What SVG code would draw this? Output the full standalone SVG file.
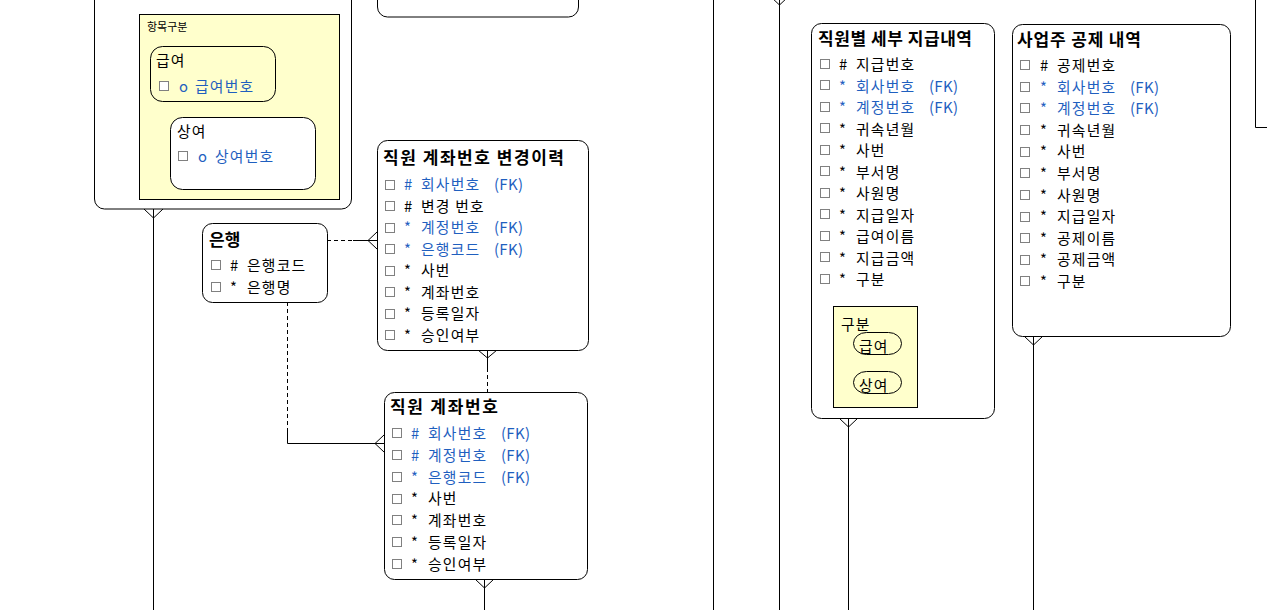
<svg xmlns="http://www.w3.org/2000/svg" width="1267" height="610" viewBox="0 0 1267 610">
<style>
text{font-family:"Noto Sans CJK KR","Noto Sans",sans-serif;fill:#000}
.t{font-size:17px;font-weight:bold}
.a{font-size:14.8px;letter-spacing:1.2px}
.f{font-size:15px;letter-spacing:0.3px}
.b{fill:#1f5fbf}
.s{font-size:11px}
.box{fill:#fff;stroke:#000;stroke-width:1}
.yel{fill:#ffffcc;stroke:#000;stroke-width:1}
.cb{fill:#fff;stroke:#808080;stroke-width:1}
.ln{fill:none;stroke:#000;stroke-width:1}
.dash{fill:none;stroke:#000;stroke-width:1;stroke-dasharray:4 3}
</style>
<rect width="1267" height="610" fill="#fff"/>

<g id="connectors">
  <line class="ln" x1="153.5" y1="209" x2="153.5" y2="610"/>
  <polyline class="ln" points="144,209 153.5,218 163,209"/>
  <line class="dash" x1="327" y1="240.5" x2="353" y2="240.5"/>
  <line class="ln" x1="353" y1="240.5" x2="377" y2="240.5"/>
  <polyline class="ln" points="377,232 368,240.5 377,249"/>
  <line class="dash" x1="287.5" y1="302" x2="287.5" y2="428"/>
  <polyline class="ln" points="287.5,428 287.5,443.5 384,443.5"/>
  <polyline class="ln" points="384,435 375,443.5 384,452"/>
  <polyline class="ln" points="478,350 487.5,358 497,350"/>
  <line class="ln" x1="487.5" y1="350" x2="487.5" y2="368"/>
  <line class="dash" x1="487.5" y1="368" x2="487.5" y2="392"/>
  <polyline class="ln" points="475,579 484.5,588 494,579"/>
  <line class="ln" x1="484.5" y1="579" x2="484.5" y2="610"/>
  <line class="ln" x1="713.5" y1="0" x2="713.5" y2="610"/>
  <line class="ln" x1="779.5" y1="0" x2="779.5" y2="610"/>
  <polyline class="ln" points="770,-4 779.5,5 789,-4"/>
  <polyline class="ln" points="839,418 848.5,427 858,418"/>
  <line class="ln" x1="848.5" y1="418" x2="848.5" y2="610"/>
  <polyline class="ln" points="1024,336 1033.5,345 1043,336"/>
  <line class="ln" x1="1033.5" y1="336" x2="1033.5" y2="610"/>
  <polyline class="ln" points="1255.5,0 1255.5,127.5 1267,127.5"/>
</g>

<g id="top-left-entity">
  <rect class="box" x="94.5" y="-30" width="257" height="239" rx="10"/>
  <rect class="yel" x="139.5" y="14.5" width="200" height="185"/>
  <text class="s" x="147" y="31">항목구분</text>
  <g id="sub-geupyeo">
    <rect fill="none" stroke="#000" x="150.5" y="46.5" width="125" height="55" rx="12"/>
    <text class="a" x="156" y="66">급여</text>
    <rect class="cb" x="159.5" y="81.5" width="9" height="9"/>
    <text class="a b" x="179" y="92">o</text>
    <text class="a b" x="195" y="92">급여번호</text>
  </g>
  <g id="sub-sangyeo">
    <rect class="box" x="170.5" y="117.5" width="145" height="72" rx="12"/>
    <text class="a" x="177" y="137">상여</text>
    <rect class="cb" x="178.5" y="151.5" width="9" height="9"/>
    <text class="a b" x="198" y="162">o</text>
    <text class="a b" x="215" y="162">상여번호</text>
  </g>
</g>

<g id="top-middle-entity">
  <rect class="box" x="377.5" y="-40" width="201" height="57" rx="10"/>
</g>

<g id="bank">
  <rect class="box" x="202.5" y="223.5" width="125" height="79" rx="10"/>
  <text class="t" x="209" y="246">은행</text>
  <rect class="cb" x="211.5" y="260.5" width="9" height="9"/>
  <text class="a" x="230" y="271">#</text>
  <text class="a" x="247" y="271">은행코드</text>
  <rect class="cb" x="211.5" y="282.5" width="9" height="9"/>
  <text class="a" x="230" y="293">*</text>
  <text class="a" x="247" y="293">은행명</text>
</g>

<g id="account-history">
  <rect class="box" x="377.5" y="140.5" width="211" height="210" rx="10"/>
  <text class="t" x="383" y="164" textLength="181" lengthAdjust="spacing">직원 계좌번호 변경이력</text>
  <rect class="cb" x="385.5" y="180.5" width="9" height="9"/>
  <text class="a b" x="404" y="190">#</text><text class="a b" x="421" y="190">회사번호</text><text class="f b" x="494" y="190">(FK)</text>
  <rect class="cb" x="385.5" y="201.5" width="9" height="9"/>
  <text class="a" x="404" y="211.5">#</text><text class="a" x="421" y="211.5">변경 번호</text>
  <rect class="cb" x="385.5" y="223.5" width="9" height="9"/>
  <text class="a b" x="404" y="233">*</text><text class="a b" x="421" y="233">계정번호</text><text class="f b" x="494" y="233">(FK)</text>
  <rect class="cb" x="385.5" y="244.5" width="9" height="9"/>
  <text class="a b" x="404" y="254.5">*</text><text class="a b" x="421" y="254.5">은행코드</text><text class="f b" x="494" y="254.5">(FK)</text>
  <rect class="cb" x="385.5" y="266.5" width="9" height="9"/>
  <text class="a" x="404" y="276">*</text><text class="a" x="421" y="276">사번</text>
  <rect class="cb" x="385.5" y="287.5" width="9" height="9"/>
  <text class="a" x="404" y="297.5">*</text><text class="a" x="421" y="297.5">계좌번호</text>
  <rect class="cb" x="385.5" y="309.5" width="9" height="9"/>
  <text class="a" x="404" y="319">*</text><text class="a" x="421" y="319">등록일자</text>
  <rect class="cb" x="385.5" y="330.5" width="9" height="9"/>
  <text class="a" x="404" y="340.5">*</text><text class="a" x="421" y="340.5">승인여부</text>
</g>

<g id="account">
  <rect class="box" x="384.5" y="392.5" width="203" height="187" rx="10"/>
  <text class="t" x="390" y="413" textLength="108" lengthAdjust="spacing">직원 계좌번호</text>
  <rect class="cb" x="392.5" y="428.5" width="9" height="9"/>
  <text class="a b" x="411" y="439">#</text><text class="a b" x="428" y="439">회사번호</text><text class="f b" x="501" y="439">(FK)</text>
  <rect class="cb" x="392.5" y="450.5" width="9" height="9"/>
  <text class="a b" x="411" y="460.8">#</text><text class="a b" x="428" y="460.8">계정번호</text><text class="f b" x="501" y="460.8">(FK)</text>
  <rect class="cb" x="392.5" y="472.5" width="9" height="9"/>
  <text class="a b" x="411" y="482.6">*</text><text class="a b" x="428" y="482.6">은행코드</text><text class="f b" x="501" y="482.6">(FK)</text>
  <rect class="cb" x="392.5" y="494.5" width="9" height="9"/>
  <text class="a" x="411" y="504.4">*</text><text class="a" x="428" y="504.4">사번</text>
  <rect class="cb" x="392.5" y="515.5" width="9" height="9"/>
  <text class="a" x="411" y="526.2">*</text><text class="a" x="428" y="526.2">계좌번호</text>
  <rect class="cb" x="392.5" y="537.5" width="9" height="9"/>
  <text class="a" x="411" y="548">*</text><text class="a" x="428" y="548">등록일자</text>
  <rect class="cb" x="392.5" y="559.5" width="9" height="9"/>
  <text class="a" x="411" y="569.8">*</text><text class="a" x="428" y="569.8">승인여부</text>
</g>

<g id="payment-detail">
  <rect class="box" x="811.5" y="23.5" width="183" height="395" rx="10"/>
  <text class="t" x="818" y="45" textLength="154" lengthAdjust="spacing">직원별 세부 지급내역</text>
  <rect class="cb" x="820.5" y="59.5" width="9" height="9"/>
  <text class="a" x="839" y="70">#</text><text class="a" x="856" y="70">지급번호</text>
  <rect class="cb" x="820.5" y="80.5" width="9" height="9"/>
  <text class="a b" x="839" y="91.5">*</text><text class="a b" x="856" y="91.5">회사번호</text><text class="f b" x="929" y="91.5">(FK)</text>
  <rect class="cb" x="820.5" y="102.5" width="9" height="9"/>
  <text class="a b" x="839" y="113">*</text><text class="a b" x="856" y="113">계정번호</text><text class="f b" x="929" y="113">(FK)</text>
  <rect class="cb" x="820.5" y="123.5" width="9" height="9"/>
  <text class="a" x="839" y="134.5">*</text><text class="a" x="856" y="134.5">귀속년월</text>
  <rect class="cb" x="820.5" y="145.5" width="9" height="9"/>
  <text class="a" x="839" y="156">*</text><text class="a" x="856" y="156">사번</text>
  <rect class="cb" x="820.5" y="166.5" width="9" height="9"/>
  <text class="a" x="839" y="177.5">*</text><text class="a" x="856" y="177.5">부서명</text>
  <rect class="cb" x="820.5" y="188.5" width="9" height="9"/>
  <text class="a" x="839" y="199">*</text><text class="a" x="856" y="199">사원명</text>
  <rect class="cb" x="820.5" y="209.5" width="9" height="9"/>
  <text class="a" x="839" y="220.5">*</text><text class="a" x="856" y="220.5">지급일자</text>
  <rect class="cb" x="820.5" y="231.5" width="9" height="9"/>
  <text class="a" x="839" y="242">*</text><text class="a" x="856" y="242">급여이름</text>
  <rect class="cb" x="820.5" y="252.5" width="9" height="9"/>
  <text class="a" x="839" y="263.5">*</text><text class="a" x="856" y="263.5">지급금액</text>
  <rect class="cb" x="820.5" y="274.5" width="9" height="9"/>
  <text class="a" x="839" y="285">*</text><text class="a" x="856" y="285">구분</text>
  <rect class="yel" x="833.5" y="306.5" width="84" height="101"/>
  <text class="a" x="841" y="329.5">구분</text>
  <rect fill="none" stroke="#000" x="853.5" y="332.5" width="48" height="22" rx="13" ry="11"/>
  <text class="a" x="859" y="352">급여</text>
  <rect fill="none" stroke="#000" x="853.5" y="371.5" width="48" height="22" rx="13" ry="11"/>
  <text class="a" x="859" y="391">상여</text>
</g>

<g id="deduction">
  <rect class="box" x="1012.5" y="24.5" width="218" height="312" rx="10"/>
  <text class="t" x="1017" y="46" textLength="124" lengthAdjust="spacing">사업주 공제 내역</text>
  <rect class="cb" x="1020.5" y="60.5" width="9" height="9"/>
  <text class="a" x="1040" y="71">#</text><text class="a" x="1057" y="71">공제번호</text>
  <rect class="cb" x="1020.5" y="82.5" width="9" height="9"/>
  <text class="a b" x="1040" y="92.6">*</text><text class="a b" x="1057" y="92.6">회사번호</text><text class="f b" x="1130" y="92.6">(FK)</text>
  <rect class="cb" x="1020.5" y="103.5" width="9" height="9"/>
  <text class="a b" x="1040" y="114.2">*</text><text class="a b" x="1057" y="114.2">계정번호</text><text class="f b" x="1130" y="114.2">(FK)</text>
  <rect class="cb" x="1020.5" y="125.5" width="9" height="9"/>
  <text class="a" x="1040" y="135.8">*</text><text class="a" x="1057" y="135.8">귀속년월</text>
  <rect class="cb" x="1020.5" y="147.5" width="9" height="9"/>
  <text class="a" x="1040" y="157.4">*</text><text class="a" x="1057" y="157.4">사번</text>
  <rect class="cb" x="1020.5" y="168.5" width="9" height="9"/>
  <text class="a" x="1040" y="179">*</text><text class="a" x="1057" y="179">부서명</text>
  <rect class="cb" x="1020.5" y="190.5" width="9" height="9"/>
  <text class="a" x="1040" y="200.6">*</text><text class="a" x="1057" y="200.6">사원명</text>
  <rect class="cb" x="1020.5" y="212.5" width="9" height="9"/>
  <text class="a" x="1040" y="222.2">*</text><text class="a" x="1057" y="222.2">지급일자</text>
  <rect class="cb" x="1020.5" y="233.5" width="9" height="9"/>
  <text class="a" x="1040" y="243.8">*</text><text class="a" x="1057" y="243.8">공제이름</text>
  <rect class="cb" x="1020.5" y="255.5" width="9" height="9"/>
  <text class="a" x="1040" y="265.4">*</text><text class="a" x="1057" y="265.4">공제금액</text>
  <rect class="cb" x="1020.5" y="276.5" width="9" height="9"/>
  <text class="a" x="1040" y="287">*</text><text class="a" x="1057" y="287">구분</text>
</g>
</svg>
